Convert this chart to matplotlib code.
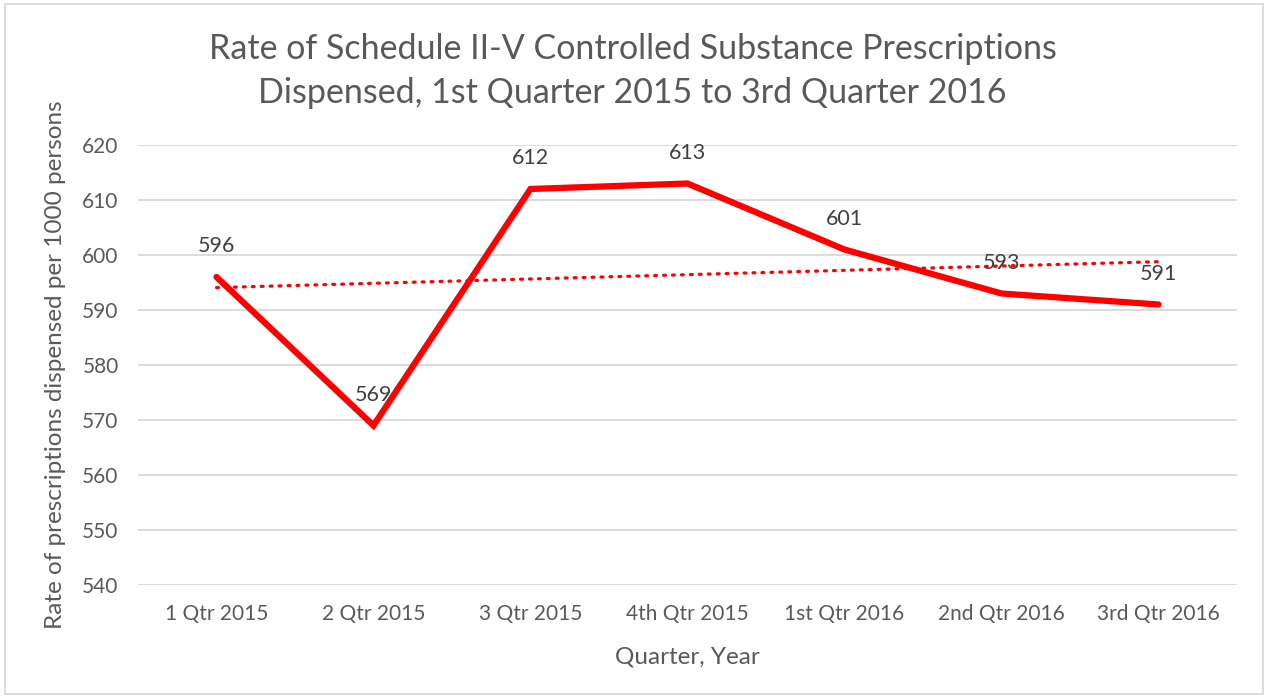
import numpy as np
import matplotlib.pyplot as plt
from matplotlib.patches import Rectangle

quarters = ['1 Qtr 2015', '2 Qtr 2015', '3 Qtr 2015', '4th Qtr 2015',
            '1st Qtr 2016', '2nd Qtr 2016', '3rd Qtr 2016']
rates = [596, 569, 612, 613, 601, 593, 591]

plt.rcParams['font.family'] = ['Lato', 'DejaVu Sans']
grey = '#595959'

fig = plt.figure(figsize=(12.65, 6.97), dpi=100)
ax = fig.add_axes([138 / 1265, 1 - 585 / 697, (1237 - 138) / 1265, 440 / 697])

x = np.arange(len(quarters))
ax.plot(x, rates, color='#FF0000', linewidth=4.5, solid_capstyle='round', solid_joinstyle='miter', zorder=3)

# linear trendline, like excel's
slope, icpt = np.polyfit(x, rates, 1)
ax.plot(x, slope * x + icpt, color='#FF0000', linewidth=2.3, linestyle=(0, (0.6, 2.2)),
        dash_capstyle='round', zorder=2)

for xi, v in zip(x, rates):
    ax.annotate(str(v), (xi, v), xytext=(0, 22), textcoords='offset points',
                ha='center', va='center', fontsize=15.5, color='#404040')

ax.set_xlim(-0.5, len(quarters) - 0.5)
ax.set_ylim(540, 620)
ax.set_yticks(range(540, 621, 10))
ax.set_xticks(x)
ax.set_xticklabels(quarters)
ax.tick_params(axis='both', length=0, labelsize=15, labelcolor=grey)
ax.tick_params(axis='x', pad=14)
ax.tick_params(axis='y', pad=14)
ax.grid(axis='y', color='#D9D9D9', linewidth=1.3)
ax.set_axisbelow(True)
for s in ax.spines.values():
    s.set_visible(False)

ax.set_xlabel('Quarter, Year', fontsize=17.5, color=grey, labelpad=16)
ax.set_ylabel('Rate of prescriptions dispensed per 1000 persons', fontsize=17.5, color=grey, labelpad=12)
fig.text(0.5, 1 - 71 / 697, 'Rate of Schedule II-V Controlled Substance Prescriptions\nDispensed, 1st Quarter 2015 to 3rd Quarter 2016',
         ha='center', va='center', fontsize=24.5, color=grey, linespacing=1.45)

fig.patches.append(Rectangle((5 / 1265, 3 / 697), 1258 / 1265, 690 / 697, transform=fig.transFigure,
                             fill=False, edgecolor='#D9D9D9', linewidth=1.3))

fig.savefig('out.png', dpi=100)
